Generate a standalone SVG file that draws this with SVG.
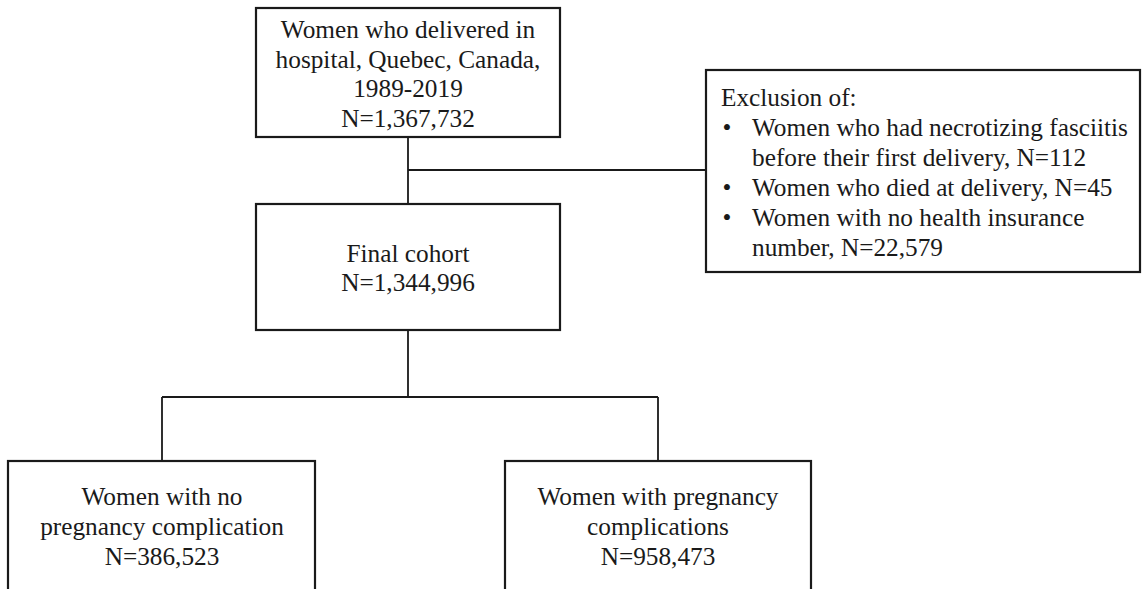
<svg xmlns="http://www.w3.org/2000/svg" width="1142" height="589" viewBox="0 0 1142 589">
<style>
.box{fill:#fff;stroke:#1a1a1a;stroke-width:2.2}
.ln{stroke:#1a1a1a;stroke-width:1.8;fill:none}
text{font-family:"Liberation Serif","Times New Roman",serif;font-size:25.3px;fill:#1a1a1a}
.c{text-anchor:middle}
</style>
<rect width="1142" height="589" fill="#fff"/>
<g id="connectors">
<path class="ln" d="M408 137V204M408 170H706M408 330V397M162 397H658M162 397V461M658 397V461"/>
</g>
<g id="n1">
<rect class="box" x="256" y="8" width="304" height="129"/>
<text class="c" x="408" y="38">Women who delivered in</text>
<text class="c" x="408" y="67.5">hospital, Quebec, Canada,</text>
<text class="c" x="408" y="97">1989-2019</text>
<text class="c" x="408" y="126.5">N=1,367,732</text>
</g>
<g id="excl">
<rect class="box" x="706" y="70" width="434" height="202"/>
<text x="721" y="106">Exclusion of:</text>
<text class="c" x="727" y="136">•</text>
<text x="752" y="136">Women who had necrotizing fasciitis</text>
<text x="752" y="166">before their first delivery, N=112</text>
<text class="c" x="727" y="196">•</text>
<text x="752" y="196">Women who died at delivery, N=45</text>
<text class="c" x="727" y="226">•</text>
<text x="752" y="226">Women with no health insurance</text>
<text x="752" y="256">number, N=22,579</text>
</g>
<g id="n2">
<rect class="box" x="256" y="204" width="304" height="126"/>
<text class="c" x="408" y="262">Final cohort</text>
<text class="c" x="408" y="291">N=1,344,996</text>
</g>
<g id="n3">
<rect class="box" x="8" y="461" width="307" height="140"/>
<text class="c" x="162" y="505">Women with no</text>
<text class="c" x="162" y="535">pregnancy complication</text>
<text class="c" x="162" y="565">N=386,523</text>
</g>
<g id="n4">
<rect class="box" x="505" y="461" width="306" height="140"/>
<text class="c" x="658" y="505">Women with pregnancy</text>
<text class="c" x="658" y="535">complications</text>
<text class="c" x="658" y="565">N=958,473</text>
</g>
</svg>
